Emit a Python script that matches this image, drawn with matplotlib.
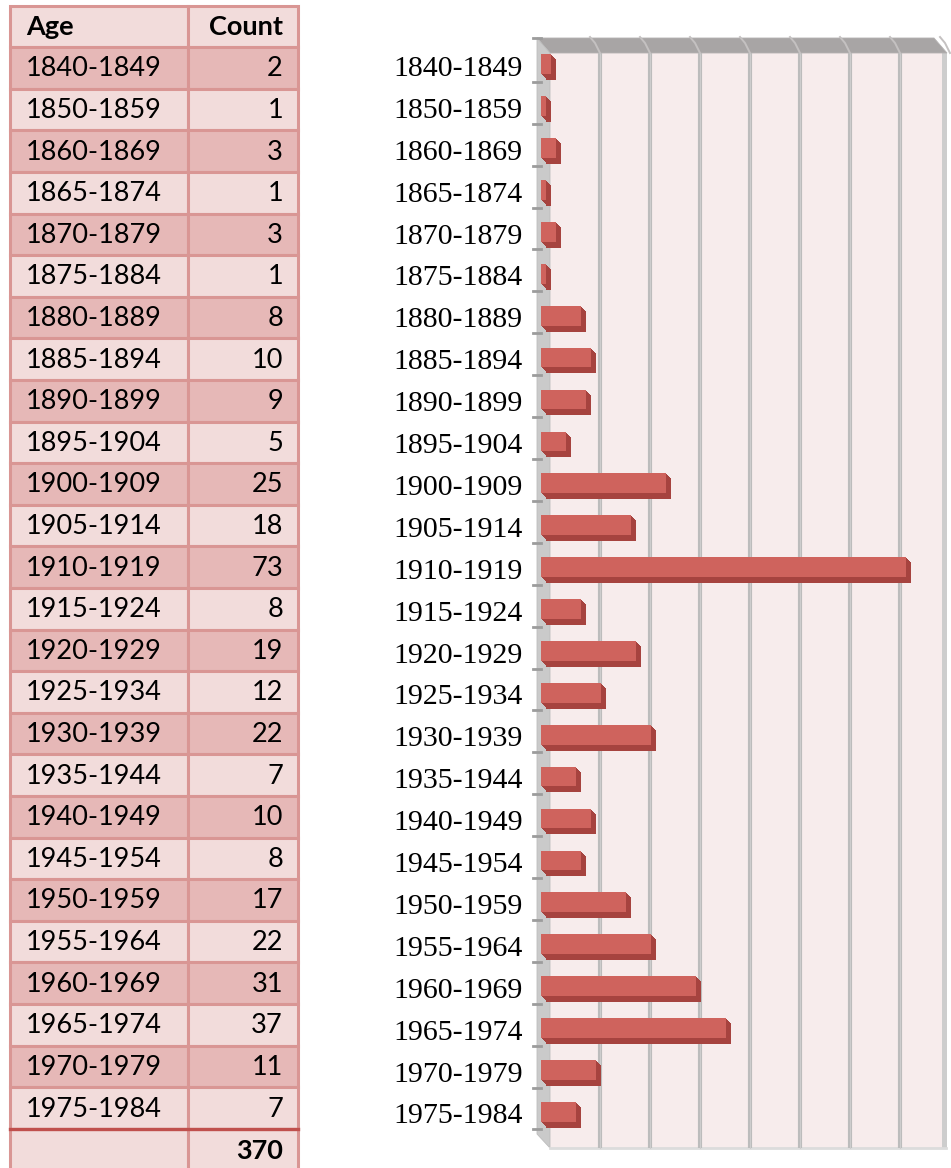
import matplotlib
matplotlib.use("Agg")
import matplotlib.pyplot as plt
from matplotlib.patches import Rectangle, Polygon
from matplotlib.transforms import ScaledTranslation, blended_transform_factory

ages = ['1840-1849', '1850-1859', '1860-1869', '1865-1874', '1870-1879', '1875-1884',
        '1880-1889', '1885-1894', '1890-1899', '1895-1904', '1900-1909', '1905-1914',
        '1910-1919', '1915-1924', '1920-1929', '1925-1934', '1930-1939', '1935-1944',
        '1940-1949', '1945-1954', '1950-1959', '1955-1964', '1960-1969', '1965-1974',
        '1970-1979', '1975-1984']
counts = [2, 1, 3, 1, 3, 1, 8, 10, 9, 5, 25, 18, 73, 8, 19, 12, 22, 7, 10, 8, 17, 22,
          31, 37, 11, 7]
header = ['Age', 'Count']
total = sum(counts)

W, H = 951, 1168
DPI = 100
fig = plt.figure(figsize=(W / DPI, H / DPI), dpi=DPI)
fig.patch.set_facecolor('white')

# background axes in pixel coordinates
bg = fig.add_axes([0, 0, 1, 1])
bg.set_xlim(0, W)
bg.set_ylim(H, 0)
bg.axis('off')

# ---------------- table ----------------
tfont = 'Lato'
tsize = 19.5
x0, xm, x1 = 10, 188, 298
rh = 41.6
hdr_c = 26.4
edge = '#D99694'
light = '#F2DCDB'
dark = '#E6B8B7'


def cell_row(cy, fc):
    for a, b in [(x0, xm), (xm, x1)]:
        bg.add_patch(Rectangle((a, cy - rh / 2), b - a, rh, facecolor=fc,
                               edgecolor=edge, linewidth=2.2, zorder=1))


cell_row(hdr_c, light)
bg.text(26, hdr_c + 1, header[0], ha='left', va='center', family=tfont, size=tsize,
        weight='bold', zorder=3)
bg.text(283, hdr_c + 1, header[1], ha='right', va='center', family=tfont, size=tsize,
        weight='bold', zorder=3)
for i, (a, c) in enumerate(zip(ages, counts)):
    cy = hdr_c + rh * (i + 1)
    cell_row(cy, dark if i % 2 == 0 else light)
    bg.text(26, cy + 1, a, ha='left', va='center', family=tfont, size=tsize, zorder=3)
    bg.text(283, cy + 1, str(c), ha='right', va='center', family=tfont, size=tsize, zorder=3)
cy = hdr_c + rh * (len(ages) + 1)
cell_row(cy, light)
bg.plot([x0, x1], [cy - rh / 2, cy - rh / 2], color='#C0504D', lw=2.4, zorder=2)
bg.text(283, cy + 1, str(total), ha='right', va='center', family=tfont, size=tsize,
        weight='bold', zorder=3)

# ---------------- chart frame (pseudo 3D) ----------------
wall_l, wall_r = 550, 946
wall_t, wall_b = 53, 1148
bg.add_patch(Rectangle((wall_l, wall_t), wall_r - wall_l, wall_b - wall_t,
                       facecolor='#F7ECEC', edgecolor='none', zorder=1))
# right edge strip
bg.add_patch(Rectangle((942, wall_t), 5, wall_b - wall_t, facecolor='#CDCDCD',
                       edgecolor='none', zorder=1.2))
# top ridge
bg.add_patch(Polygon([(537, 38), (934, 38), (947, wall_t), (wall_l, wall_t)],
                     closed=True, facecolor='#A8A5A5', edgecolor='#B5B2B2', lw=0.6, zorder=2))
# left wall
bg.add_patch(Polygon([(537, 38), (wall_l, wall_t), (wall_l, wall_b), (537, 1134)],
                     closed=True, facecolor='#CACACA', edgecolor='#BDBDBD', lw=0.6, zorder=2))
# floor edge
bg.plot([wall_l, wall_r], [wall_b, wall_b], color='#DCDCDC', lw=2, zorder=2)

# ---------------- bar axes ----------------
n = len(ages)
px0, px_per = 541, 5.0
xmax = 80
y_top, y_bot = 45, 66 + 41.9 * (n - 0.5)
ax = fig.add_axes([px0 / W, 1 - y_bot / H, px_per * xmax / W, (y_bot - y_top) / H])
ax.set_xlim(0, xmax)
ax.set_ylim(n - 0.5, -0.5)
ax.patch.set_alpha(0)
for s in ax.spines.values():
    s.set_visible(False)
ax.set_xticks([])
ax.set_yticks(range(n))
ax.set_yticklabels(ages, family='Liberation Serif', size=21.5)
ax.tick_params(axis='y', length=0, pad=13)

# vertical gridlines on back wall (offset by depth)
grid_off = ScaledTranslation((wall_l - px0) / DPI, 0, fig.dpi_scale_trans)
grid_tr = blended_transform_factory(ax.transData + grid_off, bg.transData)
for v in range(10, xmax, 10):
    ax.plot([v, v], [wall_t, wall_b], transform=grid_tr, color='#BCBCBC', lw=3.0,
            solid_capstyle='butt', clip_on=False, zorder=0.5)
    ax.plot([v, v], [wall_t, wall_b], transform=grid_tr, color='#CDCDCD', lw=0.8,
            clip_on=False, zorder=0.55)
# ridge tick marks
ridge_tr = blended_transform_factory(ax.transData + grid_off, bg.transData)
for v in range(10, xmax + 1, 10):
    ax.plot([v - 2.0, v - 1.0, v], [37, 43, wall_t], transform=ridge_tr, color='#C4C1C1',
            lw=1.4, clip_on=False, zorder=2.5)

# left wall tick marks
tick_tr = blended_transform_factory(bg.transData, ax.transData)
for k in range(n):
    ax.plot([533, 541], [k + 0.38, k + 0.38], transform=tick_tr, color='#9C9C9C', lw=2,
            clip_on=False, zorder=2.6)
bg.plot([533, 541], [38, 38], color='#9C9C9C', lw=2, zorder=2.6)

# bars with extrusion (darker side/bottom faces)
bh = 0.47
yc = [i - 0.04 for i in range(n)]
dx, dy = 5, 6
for d in range(max(dx, dy), 0, -1):
    off = ScaledTranslation(min(d, dx) / DPI, -d / DPI, fig.dpi_scale_trans)
    ax.barh(yc, counts, height=bh, color='#A6433F', edgecolor='none',
            transform=ax.transData + off, zorder=2, clip_on=False)
ax.barh(yc, counts, height=bh, color='#CF635D', edgecolor='none', zorder=3,
        clip_on=False)

fig.savefig('out.png', dpi=DPI, facecolor='white')
